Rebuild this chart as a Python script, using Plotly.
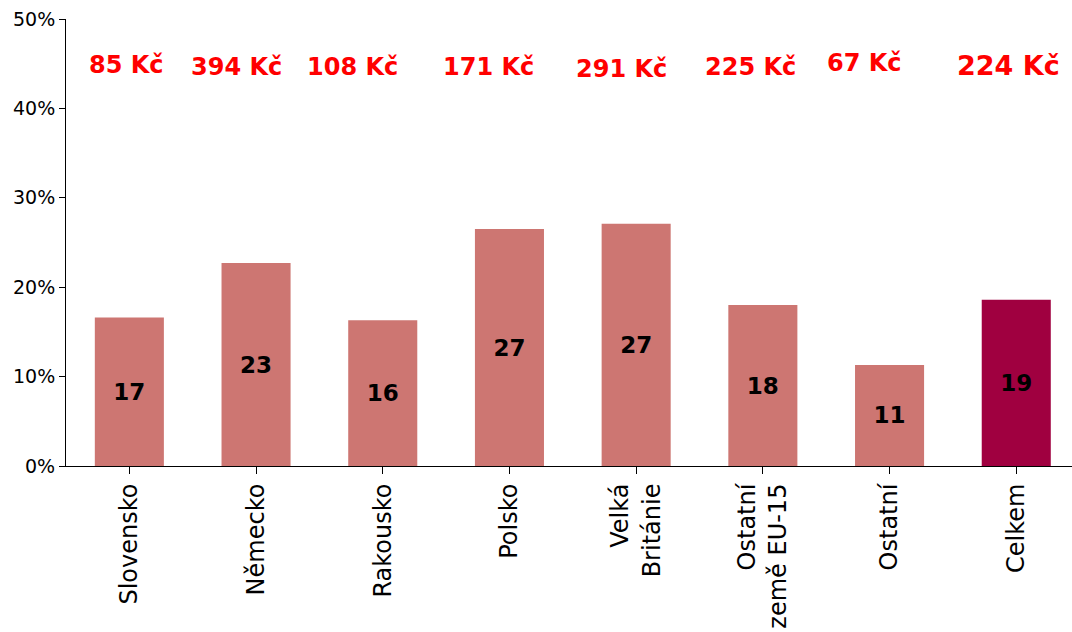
import plotly.graph_objects as go

categories = ["Slovensko", "Německo", "Rakousko", "Polsko", "Velká<br>Británie",
              "Ostatní<br>země EU-15", "Ostatní", "Celkem"]
shares = [16.6, 22.7, 16.3, 26.5, 27.1, 18.0, 11.3, 18.6]
share_labels = ["17", "23", "16", "27", "27", "18", "11", "19"]
amounts = ["85 Kč", "394 Kč", "108 Kč", "171 Kč", "291 Kč", "225 Kč", "67 Kč", "224 Kč"]

# pixel nudges for the amount captions above the bars
amount_dx = [-3, -20, -30, -21, -15, -12, -25, -8]
amount_dy = [0, -2, -2, -2, -4, -2, 2, 0]

bar_colors = ["#CD7672"] * 7 + ["#A00040"]
FONT = "DejaVu Sans"

fig = go.Figure()
fig.add_trace(go.Bar(
    x=list(range(len(categories))),
    y=shares,
    width=0.545,
    marker=dict(color=bar_colors, line=dict(width=0)),
    text=share_labels,
    textposition="inside",
    insidetextanchor="middle",
    textangle=0,
    textfont=dict(family=FONT, size=23, color="black", weight="bold"),
    hoverinfo="skip",
))

for i, amt in enumerate(amounts):
    fig.add_annotation(
        x=i, y=44.8, xref="x", yref="y", text=amt, showarrow=False,
        xshift=amount_dx[i], yshift=amount_dy[i],
        font=dict(family=FONT, size=27 if i == len(amounts) - 1 else 24,
                  color="#FF0000", weight="bold"),
    )

fig.update_layout(
    width=1072, height=632,
    margin=dict(l=66, r=0, t=19, b=166),
    plot_bgcolor="white", paper_bgcolor="white",
    showlegend=False,
    font=dict(family=FONT, color="black"),
)
fig.update_xaxes(
    range=[-0.5, 7.44],
    tickmode="array",
    tickvals=list(range(len(categories))),
    ticktext=categories,
    tickangle=-90,
    tickfont=dict(family=FONT, size=24, color="black"),
    showline=True, linecolor="black", linewidth=1,
    ticks="outside", ticklen=7, tickcolor="black",
    tickson="boundaries",
    showgrid=False, zeroline=False,
)
fig.update_yaxes(
    range=[0, 50],
    tickvals=[0, 10, 20, 30, 40, 50],
    ticktext=["0%", "10%", "20%", "30%", "40%", "50%"],
    tickfont=dict(family=FONT, size=19, color="black"),
    showline=True, linecolor="black", linewidth=1,
    ticks="outside", ticklen=6, tickcolor="black",
    showgrid=False, zeroline=False,
)

fig.write_html("out.html")
